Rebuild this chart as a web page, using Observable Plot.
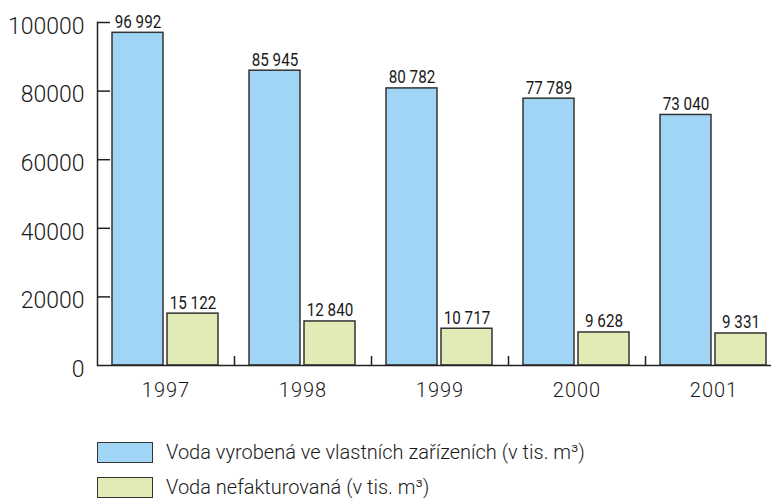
<!DOCTYPE html>
<html><head><meta charset="utf-8">
<script src="https://cdn.jsdelivr.net/npm/d3@7"></script>
<script src="https://cdn.jsdelivr.net/npm/@observablehq/plot@0.6"></script>
<style>
body{margin:0;background:#fff;overflow:hidden;}
#chart svg{display:block;}
#legend{position:relative;height:88px;font-family:Roboto, "Liberation Sans", sans-serif;font-weight:300;font-size:20px;line-height:22px;color:#1a1a1a;}
.row{position:absolute;left:97px;display:flex;align-items:center;white-space:nowrap;}
.sw{width:54px;height:19px;border:1.5px solid #333;margin-right:13px;box-sizing:content-box;}
g[aria-label="x-axis tick label"] text{letter-spacing:1px;}
</style></head><body>
<div id="chart"></div><div id="legend"></div>
<script>
const years = ["1997", "1998", "1999", "2000", "2001"];
const produced = [96992, 85945, 80782, 77789, 73040];
const unbilled = [15122, 12840, 10717, 9628, 9331];
const yTicks = [0, 20000, 40000, 60000, 80000, 100000];
const seriesNames = ["Voda vyrobená ve vlastních zařízeních (v tis. m³)", "Voda nefakturovaná (v tis. m³)"];
const colors = ["#a0d5f5", "#e1ebb6"];

const fmt = d3.formatLocale({decimal: ",", thousands: " ", grouping: [3], currency: ["", ""]}).format(",d");
const d1 = years.map((y, i) => ({year: y, v: produced[i]}));
const d2 = years.map((y, i) => ({year: y, v: unbilled[i]}));

const W = 771, H = 410, ML = 97, MT = 22, MB = 45;
const frameH = H - MT - MB;
const labelFont = "Roboto, 'Liberation Sans', sans-serif";

const chart = Plot.plot({
  width: W, height: H,
  marginLeft: ML, marginRight: 0, marginTop: MT, marginBottom: MB,
  style: {fontFamily: "Roboto, 'Liberation Sans', sans-serif", fontWeight: 300, color: "#1a1a1a", background: "#fff"},
  x: {type: "band", domain: years, range: [97, 782], padding: 0},
  y: {domain: [0, 100000]},
  marks: [
    Plot.barY(d1, {x: "year", y: "v", fill: colors[0], stroke: "#333", strokeWidth: 1.5, insetLeft: 15, insetRight: 71}),
    Plot.barY(d2, {x: "year", y: "v", fill: colors[1], stroke: "#333", strokeWidth: 1.5, insetLeft: 70, insetRight: 16}),
    Plot.text(d1, {x: "year", y: "v", text: d => fmt(d.v), dx: -28, dy: -5, lineAnchor: "bottom", fontSize: 19, fontFamily: labelFont, fontWeight: 400, fill: "#1a1a1a"}),
    Plot.text(d2, {x: "year", y: "v", text: d => fmt(d.v), dx: 27, dy: -5, lineAnchor: "bottom", fontSize: 19, fontFamily: labelFont, fontWeight: 400, fill: "#1a1a1a"}),
    Plot.ruleY([0], {stroke: "#222", strokeWidth: 1.5}),
    Plot.frame({anchor: "left", stroke: "#222", strokeWidth: 1.5}),
    Plot.ruleY(yTicks.filter(d => d > 0), {stroke: "#222", strokeWidth: 1.5, insetRight: W - ML - 13}),
    Plot.ruleX(years.slice(0, 4), {dx: 68.5, stroke: "#222", strokeWidth: 1.5, insetTop: frameH - 9}),
    Plot.axisY({ticks: yTicks, tickSize: 0, tickPadding: 13, fontSize: 23, dy: 4, tickFormat: d => String(d), label: null}),
    Plot.axisX({tickSize: 0, tickPadding: 17, fontSize: 20, label: null})
  ]
});
document.getElementById("chart").appendChild(chart);

// condense the value labels horizontally (narrow typeface look)
chart.querySelectorAll('g[aria-label="text"] text').forEach(t => {
  const tr = t.getAttribute("transform") || "";
  t.setAttribute("transform", tr + " scale(0.8,1)");
});

const legend = document.getElementById("legend");
seriesNames.forEach((name, i) => {
  const row = document.createElement("div");
  row.className = "row";
  row.style.top = (31 + i * 35) + "px";
  const sw = document.createElement("div");
  sw.className = "sw";
  sw.style.background = colors[i];
  const t = document.createElement("span");
  t.textContent = name;
  row.appendChild(sw); row.appendChild(t);
  legend.appendChild(row);
});
</script></body></html>
